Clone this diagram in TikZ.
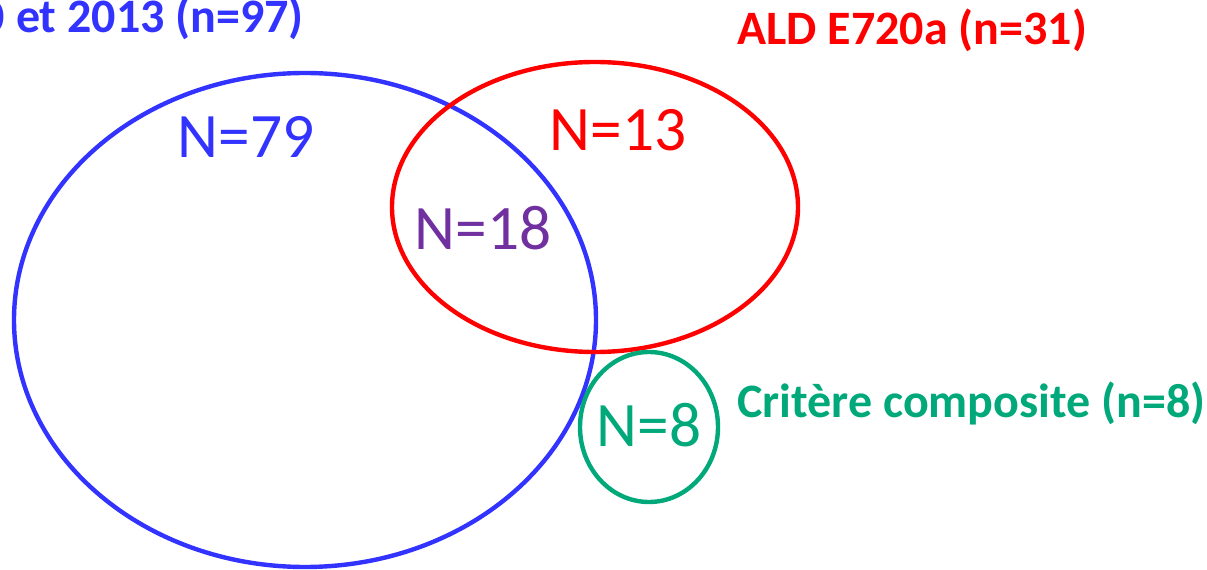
\documentclass[tikz,border=0pt]{standalone}
\usepackage{fontspec}
\setmainfont{Carlito}
\usepackage{xcolor}
\usetikzlibrary{positioning}
\definecolor{vennblue}{RGB}{51,51,255}
\definecolor{vennred}{RGB}{255,0,0}
\definecolor{venngreen}{RGB}{0,168,122}
\definecolor{vennpurple}{RGB}{112,48,160}

\tikzset{
  venn/.style={line width=3.3pt},
  count/.style={font=\fontsize{47.5}{52}\selectfont, inner sep=0pt},
  title/.style={font=\fontsize{36}{40}\selectfont\bfseries, inner sep=0pt}
}

\begin{document}
\begin{tikzpicture}[x=0.75pt, y=-0.75pt]
  % Page frame (pixel coordinates)
  \useasboundingbox (0,0) rectangle (1207,570);
  \clip (0,0) rectangle (1207,570);

  % Three sets
  \draw[venn, vennblue]  (305,320) ellipse (291 and 247);
  \draw[venn, vennred]   (595,207) ellipse (203 and 145);
  \draw[venn, venngreen] (649,427) ellipse (69 and 75);

  % Counts inside the sets
  \node[count, vennblue]   (n79) at (246,137) {N=79};
  \node[count, vennred]    (n13) at (618,130) {N=13};
  \node[count, vennpurple] (n18) at (483,228) {N=18};
  \node[count, venngreen]  (n8)  at (649,425) {N=8};

  % Set titles
  \node[title, vennblue, anchor=east]  (tblue)  at (304,18)  {2010 et 2013 (n=97)};
  \node[title, vennred, anchor=west]   (tred)   at (737,30)  {ALD E720a (n=31)};
  \node[title, venngreen, anchor=west] (tgreen) at (737,403) {Critère composite (n=8)};
\end{tikzpicture}
\end{document}
